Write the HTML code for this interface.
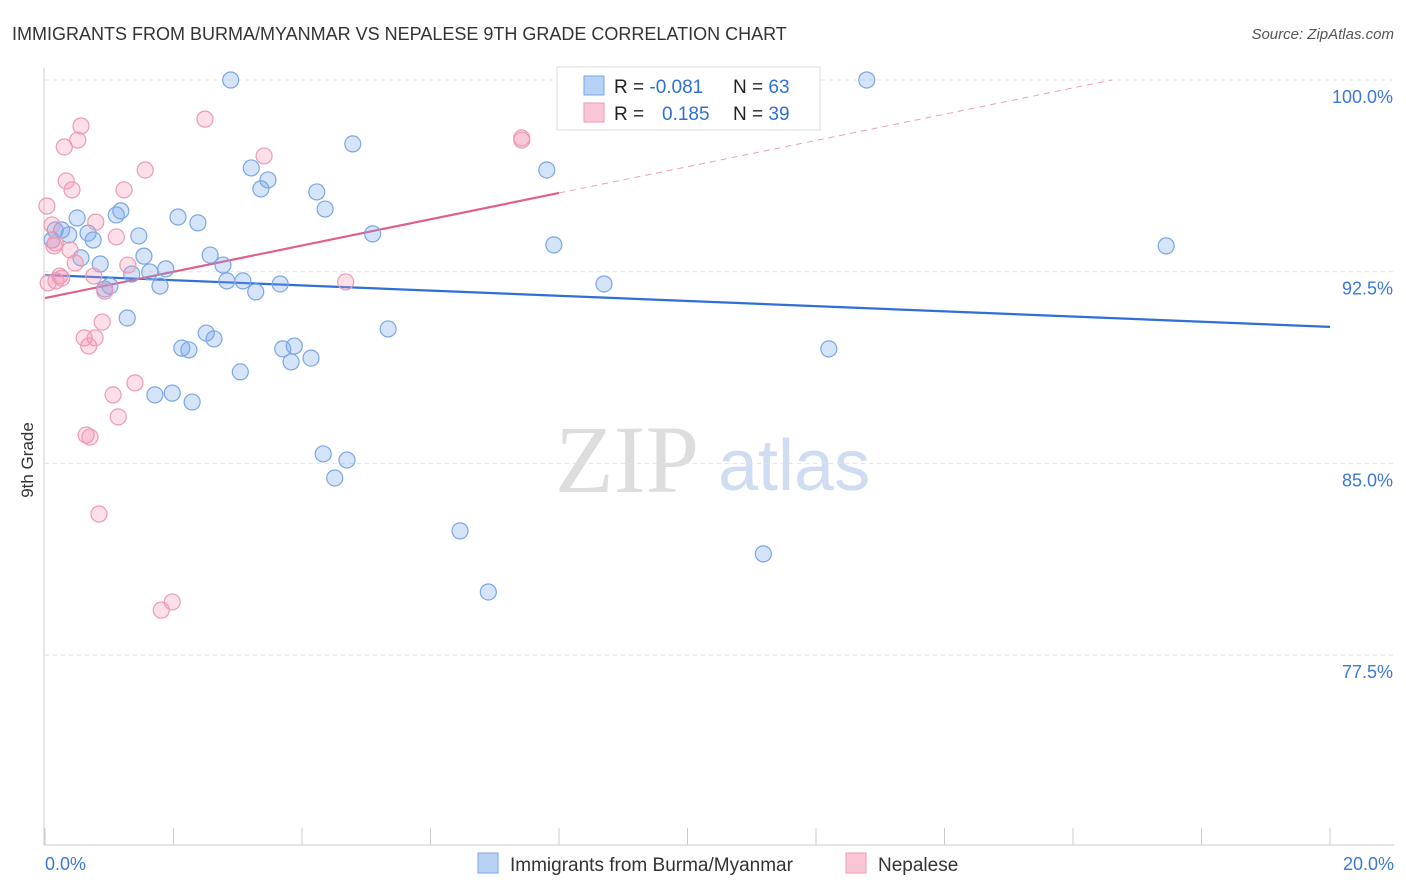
<!DOCTYPE html>
<html><head><meta charset="utf-8">
<style>
body{margin:0;background:#fff;font-family:"Liberation Sans",sans-serif;}
svg{display:block}
</style></head>
<body>
<svg id="chart" width="1406" height="892">
<text x="12" y="40" font-size="18" fill="#333">IMMIGRANTS FROM BURMA/MYANMAR VS NEPALESE 9TH GRADE CORRELATION CHART</text>
<text x="1394" y="39" font-size="15" fill="#555" font-style="italic" text-anchor="end">Source: ZipAtlas.com</text>
<text x="33" y="460" font-size="17" fill="#333" text-anchor="middle" transform="rotate(-90 33 460)">9th Grade</text>
<text x="555" y="492" font-size="96" fill="#ddd" font-family="Liberation Serif,serif">ZIP</text>
<text x="718" y="490" font-size="72" fill="#cfdcf2">atlas</text>
<g id="grid"></g><g id="lines"></g><g id="pts"></g>
<g>
<rect x="557" y="67" width="263" height="63" fill="#fff" stroke="#ddd"/>
<rect x="584" y="76" width="20" height="19" fill="#b8d2f5" stroke="#7aa6e6"/>
<rect x="584" y="103" width="20" height="19" fill="#fac6d6" stroke="#ee9ab4"/>
<text x="614" y="93" font-size="19" fill="#222">R = <tspan fill="#2f6fd6">-0.081</tspan></text>
<text x="733" y="93" font-size="19" fill="#222">N = <tspan fill="#2f6fd6">63</tspan></text>
<text x="614" y="120" font-size="19" fill="#222">R = <tspan fill="#2f6fd6" x="662">0.185</tspan></text>
<text x="733" y="120" font-size="19" fill="#222">N = <tspan fill="#2f6fd6">39</tspan></text>
</g>
<g>
<rect x="478" y="853" width="20" height="20" fill="#b8d2f5" stroke="#7aa6e6"/>
<text x="510" y="871" font-size="19" fill="#333">Immigrants from Burma/Myanmar</text>
<rect x="846" y="853" width="20" height="20" fill="#fac6d6" stroke="#ee9ab4"/>
<text x="878" y="871" font-size="19" fill="#333">Nepalese</text>
</g>
</svg>
<script>
const yTicks=[100,92.5,85,77.5];
const xTickLabels=["0.0%","20.0%"];
const blueX=[2.89,9.96,12.79,4.79,7.81,3.21,3.47,3.36,4.23,4.36,1.18,1.11,2.07,2.38,0.50,0.16,0.26,0.67,0.37,1.46,0.11,0.75,5.10,7.92,17.45,2.57,1.54,0.56,0.86,2.77,1.88,1.63,1.35,2.83,3.08,3.66,8.70,1.79,1.01,0.93,3.28,1.28,5.34,2.51,2.63,2.13,2.24,3.70,3.88,4.14,3.83,12.20,3.04,1.71,1.98,2.29,4.33,4.70,4.51,6.46,11.18,6.90];
const blueY=[100,100,100,97.50,96.48,96.56,96.09,95.74,95.62,94.95,94.88,94.72,94.64,94.41,94.60,94.13,94.13,94.01,93.94,93.90,93.74,93.74,93.98,93.55,93.51,93.15,93.11,93.04,92.80,92.76,92.61,92.49,92.41,92.14,92.14,92.02,92.02,91.94,91.94,91.82,91.71,90.69,90.26,90.10,89.87,89.51,89.44,89.48,89.59,89.12,88.97,89.48,88.58,87.68,87.75,87.40,85.37,85.13,84.43,82.36,81.46,79.97];
const pinkX=[0.03,0.11,0.16,0.56,0.51,0.30,0.33,0.42,1.56,1.23,2.49,3.41,7.42,7.42,0.79,1.11,0.39,0.47,1.29,0.23,0.17,0.05,0.76,0.93,0.89,0.61,0.78,0.68,4.68,1.40,1.06,1.14,0.64,0.70,0.84,1.98,1.81,0.14,0.26];
const pinkY=[95.07,94.33,93.62,98.20,97.65,97.38,96.05,95.70,96.48,95.70,98.47,97.03,97.73,97.65,94.44,93.86,93.35,92.84,92.76,92.33,92.14,92.06,92.33,91.74,90.53,89.91,89.91,89.59,92.10,88.15,87.68,86.82,86.11,86.03,83.02,79.58,79.26,93.51,92.25];
const blueTrend=[92.37,90.34]; // at x=0 and x=20
const pinkTrend=[91.47,95.58,8.0]; // at 0, at x=8.0 (solid end)
const X=v=>45+v*64.25, Y=v=>80+(100-v)*25.56;
const NS="http://www.w3.org/2000/svg";
function mk(p,tag,a){const e=document.createElementNS(NS,tag);for(const k in a)e.setAttribute(k,a[k]);p.appendChild(e);return e;}
const grid=document.getElementById('grid');
yTicks.forEach(t=>{
 const l=mk(grid,'line',{x1:45,x2:1394,y1:Y(t),y2:Y(t),stroke:'#e2e2e2','stroke-dasharray':'4,4'});
 
 
 const tx=mk(grid,'text',{x:1393,y:Y(t)+23,'font-size':18,fill:'#3b78d8','text-anchor':'end'});
 tx.textContent=t.toFixed(1)+'%';
 
 
});
mk(grid,'line',{x1:44,x2:44,y1:68,y2:845,stroke:'#ccc'});
mk(grid,'line',{x1:44,x2:1394,y1:845,y2:845,stroke:'#ccc'});
for(let i=0;i<=10;i++){mk(grid,'line',{x1:X(i*2),x2:X(i*2),y1:828,y2:845,stroke:'#ccc'});}
const xl0=mk(grid,'text',{x:45,y:870,'font-size':18,fill:'#3b78d8'});xl0.textContent=xTickLabels[0];


const xl1=mk(grid,'text',{x:1394,y:870,'font-size':18,fill:'#3b78d8','text-anchor':'end'});xl1.textContent=xTickLabels[1];


const pts=document.getElementById('pts');
blueX.forEach((x,i)=>{const c=mk(pts,'circle',{cx:X(x),cy:Y(blueY[i]),r:8,fill:'rgba(120,165,235,0.3)',stroke:'#7aa6e6','stroke-width':1.2});
 
 });
pinkX.forEach((x,i)=>{const c=mk(pts,'circle',{cx:X(x),cy:Y(pinkY[i]),r:8,fill:'rgba(245,150,180,0.3)',stroke:'#ee9ab4','stroke-width':1.2});
 
 });
const lines=document.getElementById('lines');
const bl=mk(lines,'line',{x1:X(0),y1:Y(blueTrend[0]),x2:X(20),y2:Y(blueTrend[1]),stroke:'#2f6fd6','stroke-width':2.2});


const slope=(pinkTrend[1]-pinkTrend[0])/pinkTrend[2];
const xEnd=(100-pinkTrend[0])/slope;
const pd=mk(lines,'line',{x1:X(pinkTrend[2]),y1:Y(pinkTrend[1]),x2:X(xEnd),y2:Y(100),stroke:'#e8a0b8','stroke-width':1,'stroke-dasharray':'6,5'});


const pl=mk(lines,'line',{x1:X(0),y1:Y(pinkTrend[0]),x2:X(pinkTrend[2]),y2:Y(pinkTrend[1]),stroke:'#e0608a','stroke-width':2.2});


</script>
</body></html>
